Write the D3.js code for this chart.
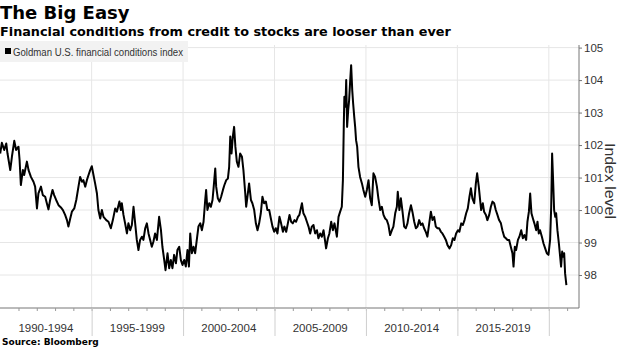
<!DOCTYPE html>
<html><head><meta charset="utf-8">
<script src="https://cdn.jsdelivr.net/npm/d3@7"></script>
<style>body{margin:0;background:#fff}svg{display:block}</style>
</head><body><svg id="chart" width="620" height="348"></svg>
<script>
const titleText = "The Big Easy";
const subtitleText = "Financial conditions from credit to stocks are looser than ever";
const seriesName = "Goldman U.S. financial conditions index";
const sourceText = "Source: Bloomberg";
const yAxisTitle = "Index level";
const periodStarts = [1990, 1995, 2000, 2005, 2010, 2015, 2020];
const periodLabels = ["1990-1994", "1995-1999", "2000-2004", "2005-2009", "2010-2014", "2015-2019"];
const yearTicks = [1991,1992,1993,1994,1995,1996,1997,1998,1999,2000,2001,2002,2003,2004,2005,2006,2007,2008,2009,2010,2011,2012,2013,2014,2015,2016,2017,2018,2019,2020,2021];
const yTicks = [98, 99, 100, 101, 102, 103, 104, 105];
const xDomain = [1990, 2021.65];
const yDomain = [97, 105.08];

// [decimal year, index level]
const fciSeries = [
[1990.00,101.74],[1990.09,102.07],[1990.22,101.85],[1990.33,102.05],[1990.40,101.74],[1990.55,101.23],[1990.64,101.64],[1990.77,102.13],[1990.87,101.85],[1991.00,101.95],[1991.06,101.54],[1991.13,100.77],[1991.24,101.23],[1991.31,101.08],[1991.46,101.49],[1991.55,101.23],[1991.68,101.02],[1991.82,100.87],[1991.91,100.72],[1992.01,100.05],[1992.09,100.51],[1992.23,100.72],[1992.33,100.46],[1992.46,100.41],[1992.55,100.21],[1992.64,100.02],[1992.73,100.31],[1992.86,100.62],[1992.95,100.46],[1993.06,100.31],[1993.19,100.15],[1993.32,100.08],[1993.43,100.00],[1993.55,99.85],[1993.65,99.69],[1993.73,99.49],[1993.83,99.74],[1993.92,99.95],[1994.05,100.05],[1994.16,100.31],[1994.28,100.72],[1994.37,101.02],[1994.47,100.87],[1994.55,100.92],[1994.65,100.72],[1994.74,100.92],[1994.83,101.08],[1994.92,101.23],[1995.01,101.35],[1995.10,101.08],[1995.19,100.82],[1995.29,100.51],[1995.37,100.00],[1995.47,99.74],[1995.56,100.00],[1995.65,99.79],[1995.80,99.69],[1995.92,99.64],[1996.05,99.44],[1996.16,99.69],[1996.29,100.05],[1996.38,99.95],[1996.52,100.26],[1996.60,100.00],[1996.65,100.21],[1996.74,99.85],[1996.83,99.59],[1996.93,99.28],[1997.01,99.59],[1997.11,99.38],[1997.20,99.54],[1997.29,100.10],[1997.38,99.59],[1997.47,99.08],[1997.56,98.77],[1997.65,99.08],[1997.75,99.18],[1997.83,99.08],[1997.93,99.44],[1998.02,99.59],[1998.11,99.28],[1998.20,99.08],[1998.29,98.87],[1998.38,99.03],[1998.47,99.28],[1998.57,99.08],[1998.69,99.79],[1998.79,99.38],[1998.87,98.87],[1998.97,98.46],[1999.04,98.15],[1999.15,98.67],[1999.24,98.21],[1999.33,98.46],[1999.42,98.21],[1999.51,98.62],[1999.61,98.36],[1999.69,98.77],[1999.79,98.87],[1999.88,98.46],[1999.97,98.31],[2000.06,98.46],[2000.15,98.26],[2000.24,98.77],[2000.32,98.26],[2000.39,99.28],[2000.48,98.67],[2000.57,98.87],[2000.66,98.67],[2000.75,99.08],[2000.84,99.49],[2000.94,99.59],[2001.03,99.38],[2001.12,99.64],[2001.21,100.31],[2001.26,100.62],[2001.33,100.00],[2001.43,100.21],[2001.52,100.10],[2001.61,100.31],[2001.66,100.62],[2001.76,101.28],[2001.81,100.72],[2001.90,100.36],[2001.99,100.26],[2002.08,100.41],[2002.18,100.62],[2002.26,100.77],[2002.36,100.92],[2002.45,100.97],[2002.52,101.33],[2002.58,102.26],[2002.65,101.74],[2002.72,102.26],[2002.79,102.56],[2002.86,101.95],[2002.94,101.49],[2003.03,101.33],[2003.12,101.74],[2003.22,101.64],[2003.30,101.23],[2003.40,100.51],[2003.45,100.10],[2003.52,100.41],[2003.61,100.82],[2003.71,100.31],[2003.79,100.21],[2003.89,100.00],[2003.98,99.59],[2004.07,99.38],[2004.16,99.59],[2004.25,99.90],[2004.34,100.41],[2004.43,100.21],[2004.53,100.26],[2004.61,100.00],[2004.71,100.00],[2004.80,99.74],[2004.89,99.49],[2004.98,99.33],[2005.07,99.44],[2005.16,99.28],[2005.27,99.79],[2005.36,99.59],[2005.46,99.33],[2005.54,99.49],[2005.64,99.33],[2005.73,99.59],[2005.82,99.85],[2005.91,99.64],[2006.00,99.59],[2006.09,99.69],[2006.18,99.64],[2006.28,99.79],[2006.36,99.85],[2006.50,100.21],[2006.58,99.90],[2006.68,99.79],[2006.77,99.64],[2006.86,99.49],[2006.95,99.28],[2007.04,99.49],[2007.13,99.54],[2007.22,99.28],[2007.32,99.38],[2007.40,99.13],[2007.50,99.28],[2007.59,99.18],[2007.68,99.38],[2007.77,99.03],[2007.82,98.82],[2007.92,99.13],[2008.00,99.28],[2008.10,99.64],[2008.19,99.38],[2008.28,99.59],[2008.41,99.18],[2008.50,99.79],[2008.59,99.95],[2008.68,100.10],[2008.74,100.92],[2008.79,102.67],[2008.82,103.49],[2008.88,103.18],[2008.92,104.00],[2008.97,102.56],[2009.03,103.08],[2009.08,103.38],[2009.14,104.00],[2009.19,104.46],[2009.25,103.69],[2009.30,103.28],[2009.36,102.87],[2009.41,102.56],[2009.46,102.15],[2009.52,101.95],[2009.59,101.33],[2009.68,101.02],[2009.78,100.82],[2009.86,100.62],[2009.96,100.41],[2010.05,100.62],[2010.14,100.92],[2010.23,100.36],[2010.32,100.15],[2010.41,101.13],[2010.50,101.02],[2010.60,100.72],[2010.68,100.36],[2010.78,100.00],[2010.87,100.10],[2010.96,99.85],[2011.05,99.74],[2011.14,99.69],[2011.23,99.54],[2011.32,99.23],[2011.42,99.38],[2011.50,99.49],[2011.60,99.90],[2011.69,100.10],[2011.74,100.56],[2011.83,100.00],[2011.91,100.36],[2012.00,99.95],[2012.09,99.49],[2012.18,99.44],[2012.27,99.59],[2012.36,99.90],[2012.46,100.15],[2012.54,99.95],[2012.64,99.64],[2012.73,99.44],[2012.82,99.49],[2012.91,99.69],[2013.00,99.54],[2013.09,99.59],[2013.18,99.44],[2013.27,99.33],[2013.36,99.18],[2013.46,99.59],[2013.55,99.95],[2013.64,99.69],[2013.73,99.79],[2013.82,99.49],[2013.91,99.44],[2014.00,99.44],[2014.10,99.33],[2014.18,99.28],[2014.28,99.18],[2014.37,99.08],[2014.46,98.92],[2014.57,98.82],[2014.66,98.92],[2014.75,99.13],[2014.84,99.08],[2014.93,99.28],[2015.03,99.38],[2015.11,99.33],[2015.21,99.59],[2015.30,99.54],[2015.39,99.69],[2015.48,99.90],[2015.57,100.05],[2015.66,100.41],[2015.74,100.67],[2015.82,100.36],[2015.92,100.21],[2016.01,100.82],[2016.08,101.13],[2016.17,100.72],[2016.26,100.21],[2016.30,100.00],[2016.39,100.21],[2016.46,99.95],[2016.56,99.85],[2016.64,99.69],[2016.74,99.85],[2016.83,100.10],[2016.92,100.26],[2017.01,100.21],[2017.10,100.00],[2017.19,99.85],[2017.28,99.69],[2017.38,99.59],[2017.46,99.38],[2017.56,99.18],[2017.65,99.13],[2017.74,99.08],[2017.83,99.08],[2017.92,98.87],[2018.01,98.67],[2018.07,98.26],[2018.14,98.87],[2018.21,98.77],[2018.31,99.08],[2018.39,99.18],[2018.49,99.38],[2018.58,99.13],[2018.67,99.23],[2018.76,99.08],[2018.83,99.64],[2018.91,99.95],[2018.98,100.51],[2019.05,99.90],[2019.13,99.74],[2019.21,99.59],[2019.31,99.38],[2019.38,99.64],[2019.45,99.28],[2019.52,99.38],[2019.62,99.18],[2019.71,98.97],[2019.80,98.82],[2019.89,98.67],[2019.98,98.62],[2020.07,99.08],[2020.13,100.10],[2020.18,101.74],[2020.24,100.82],[2020.29,100.00],[2020.35,99.79],[2020.40,99.90],[2020.47,99.38],[2020.55,98.97],[2020.62,98.56],[2020.67,98.26],[2020.73,98.72],[2020.78,98.56],[2020.84,98.67],[2020.89,98.05],[2020.96,97.69]
];

const svg = d3.select("#chart");
const plotLeft = 0.2, plotRight = 579, plotTop = 45, plotBottom = 307.5;
const x = d3.scaleLinear().domain(xDomain).range([plotLeft, plotRight]);
const y = d3.scaleLinear().domain(yDomain).range([plotBottom, plotTop]);

const gridColor = "#e6e6e6";
const axisColor = "#777";
const labelColor = "#333";
const tickFont = "'Liberation Sans', Arial, sans-serif";

// horizontal gridlines
svg.append("g").selectAll("line").data(yTicks).join("line")
  .attr("x1", 0).attr("x2", plotRight)
  .attr("y1", d => y(d)).attr("y2", d => y(d))
  .attr("stroke", gridColor).attr("stroke-width", 1);

// vertical gridlines at period starts
svg.append("g").selectAll("line").data(periodStarts.slice(1)).join("line")
  .attr("x1", d => x(d)).attr("x2", d => x(d))
  .attr("y1", plotTop).attr("y2", plotBottom)
  .attr("stroke", gridColor).attr("stroke-width", 1);

// legend
const lg = svg.append("g");
lg.append("rect").attr("x", 0).attr("y", 41).attr("width", 188).attr("height", 21).attr("fill", "#f2f2f2");
lg.append("rect").attr("x", 5).attr("y", 48).attr("width", 6).attr("height", 6).attr("fill", "#000");
lg.append("text").attr("x", 13).attr("y", 55.5).text(seriesName)
  .attr("font-family", tickFont).attr("font-size", 10).attr("fill", labelColor)
  .attr("textLength", 170).attr("lengthAdjust", "spacingAndGlyphs");

// series line
const line = d3.line().x(d => x(d[0])).y(d => y(d[1]));
svg.append("path").datum(fciSeries).attr("d", line)
  .attr("fill", "none").attr("stroke", "#000").attr("stroke-width", 2).attr("stroke-linejoin", "round");

// y axis on right
const yAxis = svg.append("g").attr("transform", `translate(${plotRight},0)`)
  .call(d3.axisRight(y).tickValues(yTicks).tickSize(3).tickPadding(2).tickFormat(d3.format("d")));
yAxis.select(".domain").attr("stroke", axisColor).attr("d", `M0,${plotTop}V${plotBottom + 0.5}`);
yAxis.selectAll(".tick line").attr("stroke", axisColor);
yAxis.selectAll(".tick text").attr("font-family", tickFont).attr("font-size", 11.5).attr("fill", labelColor);

// x axis: yearly minor ticks
const xAxis = svg.append("g").attr("transform", `translate(0,${plotBottom + 0.5})`)
  .call(d3.axisBottom(x).tickValues(yearTicks).tickSize(3).tickFormat(""));
xAxis.select(".domain").attr("stroke", axisColor).attr("d", `M0,0H${plotRight}`);
xAxis.selectAll(".tick line").attr("stroke", "#999");

// period separators
const sepAxis = svg.append("g").attr("transform", `translate(0,${plotBottom + 0.5})`)
  .call(d3.axisBottom(x).tickValues(periodStarts.slice(1)).tickSize(28).tickFormat(""));
sepAxis.select(".domain").remove();
sepAxis.selectAll(".tick line").attr("stroke", "#cfcfcf");

// period labels
svg.append("g").selectAll("text").data(periodLabels).join("text")
  .attr("x", (d, i) => (x(periodStarts[i]) + x(periodStarts[i + 1])) / 2)
  .attr("y", 331.5).attr("text-anchor", "middle")
  .attr("font-family", tickFont).attr("font-size", 11.5).attr("fill", labelColor)
  .text(d => d);

// y axis title
svg.append("text").attr("transform", "translate(605,181) rotate(90)")
  .attr("text-anchor", "middle").attr("font-family", tickFont).attr("font-size", 14).attr("fill", labelColor)
  .attr("textLength", 76).attr("lengthAdjust", "spacingAndGlyphs")
  .text(yAxisTitle);

// titles
svg.append("text").attr("x", 0).attr("y", 18.5).text(titleText)
  .attr("font-family", "'DejaVu Sans', sans-serif").attr("font-weight", "bold").attr("font-size", 18).attr("fill", "#000");
svg.append("text").attr("x", 0).attr("y", 35.5).text(subtitleText)
  .attr("font-family", "'DejaVu Sans', sans-serif").attr("font-weight", "bold").attr("font-size", 12.8).attr("fill", "#000");

svg.append("text").attr("x", 2).attr("y", 345).text(sourceText)
  .attr("font-family", "'DejaVu Sans', sans-serif").attr("font-weight", "bold").attr("font-size", 9).attr("fill", "#000");
</script></body></html>
